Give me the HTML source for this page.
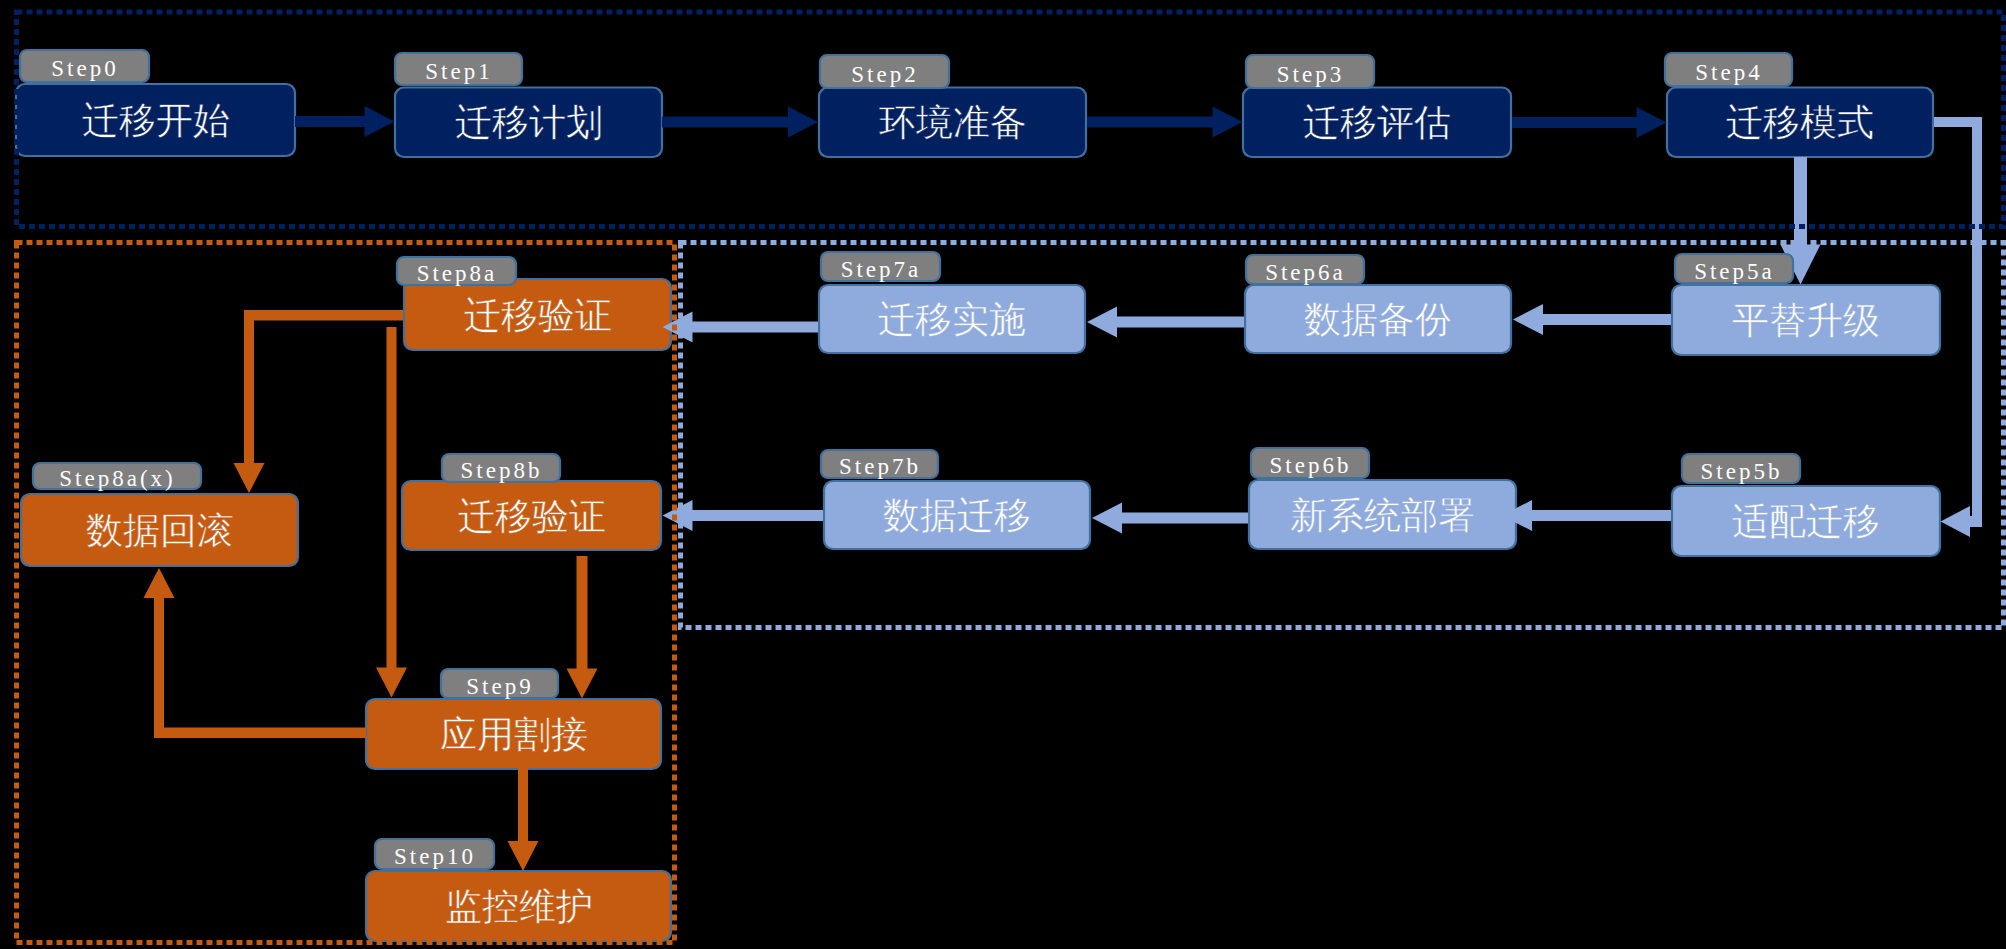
<!DOCTYPE html>
<html><head><meta charset="utf-8"><style>
html,body{margin:0;padding:0;background:#000;width:2006px;height:949px;overflow:hidden}
svg{display:block}
.m{font-family:"Liberation Serif",serif;font-size:37px;fill:#fff;text-anchor:middle;stroke-width:0.5px}
.s{font-family:"Liberation Serif",serif;font-size:23px;letter-spacing:3px;fill:#fff;text-anchor:middle}
</style></head><body>
<svg width="2006" height="949" viewBox="0 0 2006 949">
<rect width="2006" height="949" fill="#000"/>
<rect x="16" y="84" width="279" height="72" rx="9" fill="#002060" stroke="#41719c" stroke-width="2.2"/>
<rect x="395" y="87.5" width="267" height="69.5" rx="9" fill="#002060" stroke="#41719c" stroke-width="2.2"/>
<rect x="819" y="87.5" width="267" height="69.5" rx="9" fill="#002060" stroke="#41719c" stroke-width="2.2"/>
<rect x="1243" y="87.5" width="268" height="69.5" rx="9" fill="#002060" stroke="#41719c" stroke-width="2.2"/>
<rect x="1667" y="87.5" width="266" height="69.5" rx="9" fill="#002060" stroke="#41719c" stroke-width="2.2"/>
<rect x="1672" y="285" width="268" height="70" rx="9" fill="#8faadc" stroke="#41719c" stroke-width="2.2"/>
<rect x="1245" y="285" width="266" height="68" rx="9" fill="#8faadc" stroke="#41719c" stroke-width="2.2"/>
<rect x="819" y="285" width="266" height="68" rx="9" fill="#8faadc" stroke="#41719c" stroke-width="2.2"/>
<rect x="1672" y="486" width="268" height="70" rx="9" fill="#8faadc" stroke="#41719c" stroke-width="2.2"/>
<rect x="1249" y="480" width="267" height="69" rx="9" fill="#8faadc" stroke="#41719c" stroke-width="2.2"/>
<rect x="824" y="481" width="266" height="68" rx="9" fill="#8faadc" stroke="#41719c" stroke-width="2.2"/>
<rect x="404" y="279" width="267" height="71" rx="9" fill="#c55a11" stroke="#41719c" stroke-width="2.2"/>
<rect x="21" y="494" width="277" height="72" rx="9" fill="#c55a11" stroke="#41719c" stroke-width="2.2"/>
<rect x="402" y="481" width="259" height="69" rx="9" fill="#c55a11" stroke="#41719c" stroke-width="2.2"/>
<rect x="366" y="699" width="295" height="70" rx="9" fill="#c55a11" stroke="#41719c" stroke-width="2.2"/>
<rect x="366" y="871" width="305" height="70" rx="9" fill="#c55a11" stroke="#41719c" stroke-width="2.2"/>
<polygon fill="#002060" points="295,116 364.5,116 364.5,106 394.5,121.5 364.5,137 364.5,127 295,127"/>
<polygon fill="#002060" points="662,116.5 788,116.5 788,106.5 818,122 788,137.5 788,127.5 662,127.5"/>
<polygon fill="#002060" points="1087,116.5 1212.5,116.5 1212.5,106.5 1242.5,122 1212.5,137.5 1212.5,127.5 1087,127.5"/>
<polygon fill="#002060" points="1512,117 1636.5,117 1636.5,107 1666.5,122.5 1636.5,138 1636.5,128 1512,128"/>
<rect fill="#8faadc" x="1934" y="117" width="48" height="10"/>
<rect fill="#8faadc" x="1972" y="117" width="10" height="410"/>
<rect fill="#8faadc" x="1965" y="516" width="17" height="11"/>
<polygon fill="#8faadc" points="1970,506 1940.5,521.5 1970,537"/>
<polygon fill="#8faadc" points="1794,157 1807,157 1807,244.5 1820.5,244.5 1800.5,284.5 1780.5,244.5 1794,244.5"/>
<polygon fill="#8faadc" points="1671,314 1543,314 1543,304 1513,319.5 1543,335 1543,325 1671,325"/>
<polygon fill="#8faadc" points="1244,316.5 1117,316.5 1117,306.5 1087,322 1117,337.5 1117,327.5 1244,327.5"/>
<polygon fill="#8faadc" points="818,321.5 692.5,321.5 692.5,311.5 662.5,327 692.5,342.5 692.5,332.5 818,332.5"/>
<polygon fill="#8faadc" points="1671,510 1532,510 1532,500 1502,515.5 1532,531 1532,521 1671,521"/>
<polygon fill="#8faadc" points="1248,512.5 1122,512.5 1122,502.5 1092,518 1122,533.5 1122,523.5 1248,523.5"/>
<polygon fill="#8faadc" points="823,510 692.5,510 692.5,500 662.5,515.5 692.5,531 692.5,521 823,521"/>
<rect fill="#c55a11" x="244" y="310" width="159" height="10.5"/>
<polygon fill="#c55a11" points="244,310 254,310 254,463 264.5,463 249,493 233.5,463 244,463"/>
<polygon fill="#c55a11" points="386.5,327 396.5,327 396.5,667.5 407,667.5 391.5,697.5 376,667.5 386.5,667.5"/>
<polygon fill="#c55a11" points="576.5,556 587.5,556 587.5,668.5 597.5,668.5 582,698.5 566.5,668.5 576.5,668.5"/>
<rect fill="#c55a11" x="154" y="727.5" width="212" height="10.5"/>
<polygon fill="#c55a11" points="154,738 164,738 164,598 174.5,598 159,568 143.5,598 154,598"/>
<polygon fill="#c55a11" points="518,768 528,768 528,841 538.5,841 523,871 507.5,841 518,841"/>
<rect x="20" y="50" width="129" height="32" rx="7" fill="#7f7f7f" stroke="#41719c" stroke-width="2.2"/>
<rect x="395" y="53" width="127" height="32" rx="7" fill="#7f7f7f" stroke="#41719c" stroke-width="2.2"/>
<rect x="820" y="55" width="129" height="33" rx="7" fill="#7f7f7f" stroke="#41719c" stroke-width="2.2"/>
<rect x="1246" y="55" width="128" height="33" rx="7" fill="#7f7f7f" stroke="#41719c" stroke-width="2.2"/>
<rect x="1665" y="53" width="127" height="33" rx="7" fill="#7f7f7f" stroke="#41719c" stroke-width="2.2"/>
<rect x="1675" y="254" width="118" height="29" rx="7" fill="#7f7f7f" stroke="#41719c" stroke-width="2.2"/>
<rect x="1246" y="255" width="118" height="29" rx="7" fill="#7f7f7f" stroke="#41719c" stroke-width="2.2"/>
<rect x="821" y="252" width="119" height="29" rx="7" fill="#7f7f7f" stroke="#41719c" stroke-width="2.2"/>
<rect x="1682" y="454" width="118" height="29" rx="7" fill="#7f7f7f" stroke="#41719c" stroke-width="2.2"/>
<rect x="1251" y="448" width="118" height="30" rx="7" fill="#7f7f7f" stroke="#41719c" stroke-width="2.2"/>
<rect x="821" y="450" width="117" height="28" rx="7" fill="#7f7f7f" stroke="#41719c" stroke-width="2.2"/>
<rect x="397" y="257" width="119" height="28" rx="7" fill="#7f7f7f" stroke="#41719c" stroke-width="2.2"/>
<rect x="33" y="463" width="168" height="26" rx="7" fill="#7f7f7f" stroke="#41719c" stroke-width="2.2"/>
<rect x="442" y="454" width="118" height="28" rx="7" fill="#7f7f7f" stroke="#41719c" stroke-width="2.2"/>
<rect x="441" y="669" width="117" height="29" rx="7" fill="#7f7f7f" stroke="#41719c" stroke-width="2.2"/>
<rect x="375" y="839" width="119" height="30" rx="7" fill="#7f7f7f" stroke="#41719c" stroke-width="2.2"/>
<rect x="16.5" y="12" width="1987" height="214.5" fill="none" stroke="#002060" stroke-width="5" stroke-dasharray="6 4"/>
<rect x="680.5" y="242.5" width="1323" height="385" fill="none" stroke="#8faadc" stroke-width="5" stroke-dasharray="6 4"/>
<rect x="16.5" y="242.5" width="658" height="700" fill="none" stroke="#c55a11" stroke-width="5" stroke-dasharray="6 4"/>
<text x="155.5" y="133" class="m" stroke="#002060">迁移开始</text>
<text x="85" y="76" class="s">Step0</text>
<text x="528.5" y="135.25" class="m" stroke="#002060">迁移计划</text>
<text x="459" y="79" class="s">Step1</text>
<text x="952.5" y="135.25" class="m" stroke="#002060">环境准备</text>
<text x="885" y="81.5" class="s">Step2</text>
<text x="1377" y="135.25" class="m" stroke="#002060">迁移评估</text>
<text x="1310.5" y="81.5" class="s">Step3</text>
<text x="1800" y="135.25" class="m" stroke="#002060">迁移模式</text>
<text x="1729" y="79.5" class="s">Step4</text>
<text x="1806" y="333" class="m" stroke="#8faadc">平替升级</text>
<text x="1734.5" y="278.5" class="s">Step5a</text>
<text x="1378" y="332" class="m" stroke="#8faadc">数据备份</text>
<text x="1305.5" y="279.5" class="s">Step6a</text>
<text x="952" y="332" class="m" stroke="#8faadc">迁移实施</text>
<text x="881" y="276.5" class="s">Step7a</text>
<text x="1806" y="534" class="m" stroke="#8faadc">适配迁移</text>
<text x="1741.5" y="478.5" class="s">Step5b</text>
<text x="1382.5" y="527.5" class="m" stroke="#8faadc">新系统部署</text>
<text x="1310.5" y="473" class="s">Step6b</text>
<text x="957" y="528" class="m" stroke="#8faadc">数据迁移</text>
<text x="880" y="474" class="s">Step7b</text>
<text x="537.5" y="327.5" class="m" stroke="#c55a11">迁移验证</text>
<text x="457" y="281" class="s">Step8a</text>
<text x="159.5" y="543" class="m" stroke="#c55a11">数据回滚</text>
<text x="117.5" y="486" class="s">Step8a(x)</text>
<text x="531.5" y="528.5" class="m" stroke="#c55a11">迁移验证</text>
<text x="501.5" y="478" class="s">Step8b</text>
<text x="513.5" y="747" class="m" stroke="#c55a11">应用割接</text>
<text x="500" y="693.5" class="s">Step9</text>
<text x="518.5" y="919" class="m" stroke="#c55a11">监控维护</text>
<text x="435" y="864" class="s">Step10</text>
</svg></body></html>
